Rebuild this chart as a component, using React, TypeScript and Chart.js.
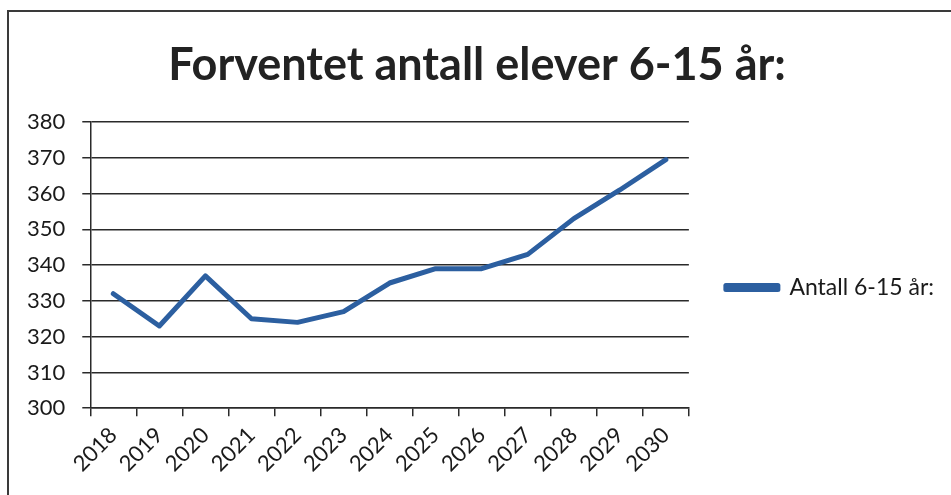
import React, { useEffect, useRef } from "react";
import { Chart, registerables } from "chart.js";

Chart.register(...registerables);

const titleText = "Forventet antall elever 6-15 år:";
const seriesLabel = "Antall 6-15 år:";
const years = ["2018", "2019", "2020", "2021", "2022", "2023", "2024", "2025", "2026", "2027", "2028", "2029", "2030"];
const students = [332, 323, 337, 325, 324, 327, 335, 339, 339, 343, 353, 361, 369.5];
const yMin = 300;
const yMax = 380;
const yStep = 10;

const lineBlue = "#2C5FA0";
const gridColor = "#2a2a2a";
const textColor = "#1a1a1a";
const fontFamily = "Lato, 'Open Sans', sans-serif";

export default function App() {
  const ref = useRef<HTMLCanvasElement | null>(null);

  useEffect(() => {
    if (!ref.current) return;
    const chart = new Chart(ref.current, {
      type: "line",
      data: {
        labels: years,
        datasets: [
          {
            label: seriesLabel,
            data: students,
            borderColor: lineBlue,
            backgroundColor: lineBlue,
            borderWidth: 5,
            pointRadius: 0,
            tension: 0,
            borderJoinStyle: "round",
            borderCapStyle: "round",
            yAxisID: "y",
          },
        ],
      },
      options: {
        responsive: false,
        animation: false,
        layout: { padding: { top: 26, left: 10, right: 7, bottom: 12 } },
        plugins: {
          title: {
            display: true,
            text: titleText,
            color: "#222",
            font: { family: fontFamily, size: 45, weight: "bold", lineHeight: 1.2 },
            padding: { top: 12, bottom: 30 },
          },
          legend: {
            display: true,
            position: "right",
            align: "center",
            maxWidth: 270,
            title: { display: true, text: " ", font: { size: 10, lineHeight: 1.2 }, padding: { top: 54, bottom: 0 } },
            labels: {
              color: textColor,
              font: { family: fontFamily, size: 23 },
              boxWidth: 52,
              boxHeight: 4,
              padding: 16,
            },
          },
          tooltip: { enabled: false },
        },
        scales: {
          x: {
            type: "category",
            offset: true,
            grid: {
              offset: true,
              drawOnChartArea: false,
              drawTicks: true,
              tickLength: 8,
              color: gridColor,
              lineWidth: 1.5,
            },
            border: { display: true, color: gridColor, width: 1.5 },
            ticks: {
              color: textColor,
              font: { family: fontFamily, size: 22 },
              maxRotation: 45,
              minRotation: 45,
              padding: 6,
              autoSkip: false,
            },
          },
          y: {
            min: yMin,
            max: yMax,
            grid: { color: gridColor, lineWidth: 1.5, tickLength: 8, drawTicks: true },
            border: { display: true, color: gridColor, width: 1.5 },
            ticks: {
              stepSize: yStep,
              color: textColor,
              font: { family: fontFamily, size: 22 },
              padding: 17,
            },
          },
          spacer: {
            type: "linear",
            position: "right",
            display: true,
            grid: { display: false, drawTicks: false },
            border: { display: false },
            ticks: { display: false },
            afterFit: (scale: any) => {
              scale.width = 21;
            },
          },
        },
      },
    });
    return () => chart.destroy();
  }, []);

  return (
    <div style={{ position: "fixed", left: 0, top: 0, width: 951, height: 495, background: "#fff", overflow: "hidden" }}>
      <canvas ref={ref} width={951} height={495} style={{ display: "block", width: 951, height: 495 }} />
      <div
        style={{
          position: "absolute",
          left: 7,
          top: 10,
          width: 960,
          height: 500,
          borderLeft: "2px solid #3a3a3a",
          borderTop: "2px solid #3a3a3a",
          pointerEvents: "none",
        }}
      />
    </div>
  );
}
